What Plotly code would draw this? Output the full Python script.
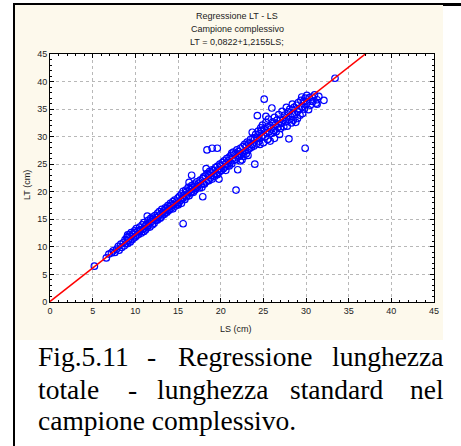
import plotly.graph_objects as go

# ---------------- data ----------------
LS_A = [5.2, 6.6, 6.9, 7.2, 7.4, 7.6, 7.8, 8.0, 8.1, 8.3, 8.4, 8.6, 8.7, 8.8, 8.9, 9.0]
LT_A = [6.5, 8.0, 8.7, 8.9, 9.3, 9.0, 9.6, 10.1, 9.4, 10.5, 9.9, 10.8, 10.2, 11.3, 10.6, 11.7]

LS_B = [9.1, 9.1, 9.1, 9.2, 9.3, 9.4, 9.5, 9.5, 9.6, 9.7, 9.8, 9.9, 10.0, 10.0, 10.1, 10.2, 10.3, 10.4, 10.5, 10.5,
        10.6, 10.7, 10.8, 10.9, 11.0, 11.0, 11.1, 11.2, 11.3, 11.4, 11.4, 11.5, 11.5, 11.6, 11.7, 11.8, 11.9, 12.0, 12.0]
LT_B = [10.6, 11.8, 12.2, 11.2, 12.2, 10.9, 11.9, 12.6, 11.3, 12.3, 11.6, 12.9, 11.8, 12.6, 13.3, 12.1, 12.9, 12.3, 13.6, 12.8,
        13.1, 12.5, 14.0, 13.2, 12.8, 14.4, 13.7, 13.1, 14.1, 13.5, 15.6, 14.8, 13.9, 14.3, 13.6, 15.2, 14.6, 14.0, 15.4]

LS_C = [12.1, 12.2, 12.3, 12.4, 12.5, 12.6, 12.6, 12.7, 12.8, 12.9, 13.0, 13.0, 13.1, 13.2, 13.3, 13.4, 13.5, 13.5,
        13.6, 13.7, 13.8, 13.9, 14.0, 14.0, 14.1, 14.2, 14.3, 14.4, 14.4, 14.5, 14.6, 14.7, 14.8, 14.9, 15.0, 15.0]
LT_C = [15.0, 14.3, 15.7, 14.8, 15.3, 16.1, 14.9, 15.6, 16.4, 15.2, 16.0, 15.4, 16.8, 15.8, 16.5, 15.9, 17.1, 16.2,
        16.9, 16.3, 17.5, 16.6, 17.3, 16.8, 17.9, 17.0, 17.6, 16.9, 18.2, 17.7, 18.5, 17.4, 18.1, 17.8, 18.9, 17.6]

LS_D = [15.1, 15.2, 15.3, 15.4, 15.4, 15.5, 15.6, 15.6, 15.6, 15.7, 15.8, 15.9, 16.0, 16.0, 16.1, 16.2, 16.3, 16.3, 16.4, 16.5,
        16.6, 16.6, 16.6, 16.7, 16.8, 16.9, 17.0, 17.0, 17.1, 17.2, 17.3, 17.4, 17.5, 17.6, 17.7, 17.8, 17.9, 17.9, 18.0, 18.0]
LT_D = [18.0, 19.2, 18.4, 19.6, 17.9, 18.7, 20.1, 18.9, 14.2, 19.4, 18.6, 20.3, 19.1, 20.0, 19.6, 20.8, 19.3, 21.7, 20.4, 19.8,
        21.1, 20.0, 23.0, 20.7, 19.9, 21.4, 20.3, 21.0, 20.6, 21.8, 20.9, 21.5, 20.7, 22.1, 21.3, 20.8, 22.4, 19.1, 21.5, 22.7]

LS_E = [18.1, 18.2, 18.3, 18.3, 18.4, 18.4, 18.5, 18.6, 18.6, 18.7, 18.8, 18.9, 19.0, 19.0, 19.0, 19.1, 19.2, 19.3, 19.4, 19.5,
        19.6, 19.6, 19.6, 19.7, 19.8, 19.8, 19.9, 20.0, 20.0, 20.1, 20.2, 20.3, 20.4, 20.5, 20.6, 20.6, 20.7, 20.8, 20.9, 21.0, 21.0]
LT_E = [21.4, 22.9, 21.8, 24.2, 23.3, 27.6, 22.1, 23.0, 22.0, 23.7, 22.5, 23.4, 22.3, 24.0, 27.9, 23.0, 23.9, 22.8, 24.4, 23.3,
        24.6, 23.1, 27.9, 24.0, 23.5, 22.3, 25.0, 23.8, 24.7, 23.9, 25.3, 24.2, 25.6, 24.5, 25.0, 23.9, 26.0, 24.8, 25.6, 24.7, 26.3]

LS_F = [21.1, 21.2, 21.3, 21.3, 21.4, 21.5, 21.6, 21.7, 21.8, 21.8, 21.9, 22.0, 22.0, 22.1, 22.2, 22.3, 22.3, 22.4, 22.5, 22.6,
        22.6, 22.7, 22.8, 22.9, 23.0, 23.0, 23.1, 23.2, 23.2, 23.3, 23.4, 23.5, 23.6, 23.7, 23.7, 23.8, 23.9, 24.0, 24.0]
LT_F = [25.3, 26.6, 27.0, 25.1, 26.0, 27.2, 25.7, 26.9, 25.9, 20.3, 27.6, 26.3, 24.0, 27.3, 26.5, 27.9, 25.6, 26.8, 25.8, 28.2,
        27.1, 26.4, 28.6, 27.4, 28.3, 26.9, 29.0, 27.6, 26.6, 28.8, 27.9, 29.5, 28.1, 30.8, 28.6, 29.8, 28.3, 29.6, 25.0]

LS_G = [24.1, 24.2, 24.3, 24.3, 24.4, 24.5, 24.6, 24.6, 24.7, 24.8, 24.8, 24.9, 25.0, 25.0, 25.1, 25.1, 25.2, 25.3, 25.3, 25.4, 25.5,
        25.5, 25.6, 25.7, 25.8, 25.8, 25.9, 26.0, 26.0, 26.1, 26.2, 26.3, 26.3, 26.4, 26.5, 26.6, 26.7, 26.8, 26.8, 26.9, 27.0, 27.0]
LT_G = [30.4, 28.7, 33.8, 29.8, 31.0, 29.2, 30.6, 28.6, 31.6, 29.9, 31.2, 32.1, 30.3, 28.9, 36.8, 31.3, 30.0, 32.6, 33.7, 30.7, 29.5,
        31.8, 33.2, 30.9, 32.0, 29.2, 31.4, 35.2, 30.6, 32.7, 31.1, 33.5, 29.7, 32.2, 30.9, 33.0, 31.7, 34.0, 32.3, 30.4, 33.2, 31.5]

LS_H = [27.1, 27.2, 27.3, 27.4, 27.5, 27.6, 27.7, 27.7, 27.8, 27.9, 28.0, 28.0, 28.1, 28.2, 28.3, 28.4, 28.4, 28.5, 28.6, 28.7,
        28.8, 28.9, 29.0, 29.0, 29.1, 29.2, 29.3, 29.4, 29.5, 29.5, 29.6, 29.7, 29.8, 29.9, 29.9, 30.0, 30.1, 30.2, 30.3, 30.4,
        30.5, 30.7, 30.8, 31.0, 31.2, 31.3, 31.3, 31.5, 32.1, 33.4]
LT_H = [32.4, 34.6, 33.0, 31.8, 33.9, 32.7, 35.3, 33.4, 31.9, 34.5, 33.1, 29.6, 35.0, 33.7, 32.5, 35.9, 34.2, 33.0, 35.3, 34.0,
        32.6, 35.7, 34.6, 33.3, 36.2, 35.1, 33.9, 36.6, 37.2, 35.4, 34.2, 36.4, 35.0, 27.9, 37.0, 35.8, 37.5, 36.3, 34.9, 37.1,
        35.7, 37.2, 36.4, 37.6, 36.1, 36.7, 35.9, 37.3, 36.6, 40.6]

INTERCEPT = 0.0822
SLOPE = 1.2155
LINE_LS = [0, 45]

TICKS = [0, 5, 10, 15, 20, 25, 30, 35, 40, 45]
TITLE_LINES = ["Regressione LT - LS", "Campione complessivo", "LT = 0,0822+1,2155LS;"]
X_TITLE = "LS (cm)"
Y_TITLE = "LT (cm)"
CAPTION = [
    ["Fig.5.11", "-", "Regressione", "lunghezza"],
    ["totale", "-", "lunghezza", "standard", "nel"],
    ["campione complessivo."],
]

LS = LS_A + LS_B + LS_C + LS_D + LS_E + LS_F + LS_G + LS_H
LT = LT_A + LT_B + LT_C + LT_D + LT_E + LT_F + LT_G + LT_H
LINE_LT = [INTERCEPT + SLOPE * v for v in LINE_LS]

# ---------------- layout geometry (pixels) ----------------
W, H = 461, 446
L, R, T, B = 50, 434, 54, 302
PW, PH = R - L, B - T


def px(x):
    return (x - L) / PW


def py(y):
    return (B - y) / PH


fig = go.Figure()
fig.add_trace(go.Scatter(
    x=LS, y=LT, mode="markers",
    marker=dict(symbol="circle-open", size=6.5, color="#0000FF", line=dict(width=1.2, color="#0000FF")),
    showlegend=False, hoverinfo="skip"))
fig.add_trace(go.Scatter(
    x=LINE_LS, y=LINE_LT, mode="lines",
    line=dict(color="#FF0000", width=1.5),
    showlegend=False, hoverinfo="skip"))

axis_common = dict(
    range=[0, 45], tickvals=TICKS, ticktext=[str(t) for t in TICKS],
    showline=True, linecolor="black", linewidth=1, mirror="ticks",
    ticks="inside", ticklen=4, tickcolor="black", tickwidth=1,
    minor=dict(dtick=1, ticks="inside", ticklen=2, tickcolor="black", showgrid=False),
    showgrid=True, gridcolor="#b8b8b8", griddash="dot", gridwidth=1,
    zeroline=False, tickfont=dict(family="Liberation Sans, Arial", size=9, color="#222222"),
    fixedrange=True,
)
fig.update_xaxes(**axis_common)
fig.update_yaxes(**axis_common)

shapes = [
    # cream panel
    dict(type="rect", xref="paper", yref="paper", x0=px(15), x1=px(443), y0=py(5), y1=py(340),
         fillcolor="#FDF9EC", line=dict(width=0), layer="below"),
    # white plot area
    dict(type="rect", xref="paper", yref="paper", x0=0, x1=1, y0=0, y1=1,
         fillcolor="white", line=dict(width=0), layer="below"),
    # border lines
    dict(type="line", xref="paper", yref="paper", x0=px(14), x1=px(14), y0=py(3), y1=py(446),
         line=dict(color="black", width=2)),
    dict(type="line", xref="paper", yref="paper", x0=px(13), x1=px(461), y0=py(4), y1=py(4),
         line=dict(color="black", width=2)),
    dict(type="line", xref="paper", yref="paper", x0=px(443), x1=px(461), y0=py(5), y1=py(5),
         line=dict(color="black", width=2)),
]

annotations = []
for i, (txt, yy) in enumerate(zip(TITLE_LINES, [16, 29, 42])):
    annotations.append(dict(text=txt, x=px(237), y=py(yy), xref="paper", yref="paper",
                            xanchor="center", yanchor="middle", showarrow=False,
                            font=dict(family="Liberation Sans, Arial", size=9, color="#222222")))
annotations.append(dict(text=X_TITLE, x=px(236), y=py(329), xref="paper", yref="paper",
                        xanchor="center", yanchor="middle", showarrow=False,
                        font=dict(family="Liberation Sans, Arial", size=9, color="#222222")))
annotations.append(dict(text=Y_TITLE, x=px(27), y=py(185), xref="paper", yref="paper",
                        xanchor="center", yanchor="middle", showarrow=False, textangle=-90,
                        font=dict(family="Liberation Sans, Arial", size=9, color="#222222")))

# caption words (justified lines)
word_x = [[37, 146, 177, 331], [37, 127, 156, 289, 409], [37]]
line_y = [356, 389, 420]
for words, xs, yy in zip(CAPTION, word_x, line_y):
    for w, xx in zip(words, xs):
        annotations.append(dict(text=w, x=px(xx), y=py(yy), xref="paper", yref="paper",
                                xanchor="left", yanchor="middle", showarrow=False, borderpad=0,
                                font=dict(family="Liberation Serif, Times New Roman", size=27.5, color="black")))

fig.update_layout(
    width=W, height=H,
    margin=dict(l=L, r=W - R, t=T, b=H - B, pad=0),
    paper_bgcolor="white", plot_bgcolor="white",
    shapes=shapes, annotations=annotations, showlegend=False,
)

fig.write_html("out.html", config={"displayModeBar": False})
